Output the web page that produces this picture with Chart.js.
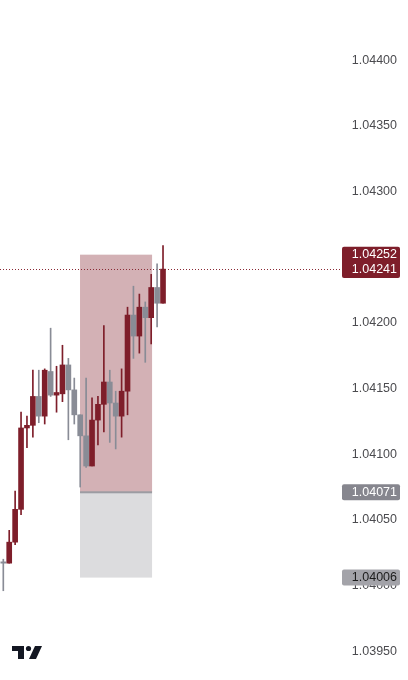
<!DOCTYPE html>
<html>
<head>
<meta charset="utf-8">
<script src="https://cdn.jsdelivr.net/npm/chart.js@4"></script>
<style>
  html, body { margin: 0; padding: 0; background: #fff; }
  #wrap { width: 408px; height: 680px; position: relative; }
</style>
</head>
<body>
<div id="wrap"><canvas id="priceChart"></canvas></div>
<script>
// candle values (oldest first)
const opens  = [1.04018, 1.04017, 1.04033, 1.04058, 1.04120, 1.04122, 1.04144, 1.04129, 1.04163, 1.04145,
                1.04146, 1.04168, 1.04149, 1.04130, 1.04114, 1.04091, 1.04126, 1.04138, 1.04155, 1.04139,
                1.04129, 1.04148, 1.04206, 1.04190, 1.04212, 1.04204, 1.04227, 1.04215];
const closes = [1.04017, 1.04033, 1.04058, 1.04120, 1.04122, 1.04144, 1.04129, 1.04164, 1.04145, 1.04147,
                1.04168, 1.04149, 1.04130, 1.04114, 1.04091, 1.04126, 1.04138, 1.04155, 1.04139, 1.04129,
                1.04148, 1.04206, 1.04190, 1.04212, 1.04204, 1.04227, 1.04215, 1.04241];
const highs  = [1.04020, 1.04042, 1.04072, 1.04132, 1.04129, 1.04164, 1.04164, 1.04165, 1.04196, 1.04167,
                1.04183, 1.04173, 1.04158, 1.04130, 1.04158, 1.04143, 1.04144, 1.04198, 1.04164, 1.04148,
                1.04165, 1.04212, 1.04228, 1.04222, 1.04216, 1.04237, 1.04245, 1.04259];
const lows   = [1.03996, 1.04017, 1.04031, 1.04054, 1.04105, 1.04113, 1.04124, 1.04123, 1.04144, 1.04132,
                1.04140, 1.04111, 1.04123, 1.04075, 1.04090, 1.04091, 1.04107, 1.04117, 1.04109, 1.04104,
                1.04113, 1.04130, 1.04173, 1.04177, 1.04170, 1.04184, 1.04197, 1.04215];

// price axis ticks
const priceTicks = [1.03950, 1.04000, 1.04050, 1.04100, 1.04150, 1.04200, 1.04250, 1.04300, 1.04350, 1.04400];

// position tool levels and span (in candle index units)
const targetPrice = 1.04252;
const lastPrice = 1.04241;
const entryPrice = 1.04071;
const stopPrice = 1.04006;
const boxFrom = 12.97;
const boxTo = 25.15;

const RED = '#7e1e2a';
const GRAY = '#898c96';

const idx = opens.map((_, i) => i);
const candleColors = idx.map(i => closes[i] >= opens[i] ? RED : GRAY);

const overlay = {
    id: 'overlay',
    beforeDatasetsDraw(chart) {
        const { ctx, scales: { x, y }, chartArea } = chart;
        const x0 = x.getPixelForValue(boxFrom);
        const x1 = x.getPixelForValue(boxTo);
        const yT = y.getPixelForValue(targetPrice);
        const yE = y.getPixelForValue(entryPrice);
        const yS = y.getPixelForValue(stopPrice);
        ctx.save();
        ctx.fillStyle = 'rgba(128,31,42,0.35)';
        ctx.fillRect(x0, yT, x1 - x0, yE - yT);
        ctx.fillStyle = '#dcdcde';
        ctx.fillRect(x0, yE, x1 - x0, yS - yE);
        ctx.fillStyle = '#9c9ca2';
        ctx.fillRect(x0, yE - 1, x1 - x0, 2);

        // last price dotted line
        const yL = Math.round(y.getPixelForValue(lastPrice)) + 0.5;
        ctx.strokeStyle = '#8a2a36';
        ctx.lineWidth = 1;
        ctx.setLineDash([1, 2]);
        ctx.beginPath();
        ctx.moveTo(chartArea.left, yL);
        ctx.lineTo(chartArea.right, yL);
        ctx.stroke();
        ctx.restore();
    },
    afterDraw(chart) {
        const { ctx, scales: { y } } = chart;
        const left = 342, w = 58, right = 397;
        ctx.save();
        ctx.font = '12.5px "Liberation Sans", Arial, sans-serif';
        ctx.textAlign = 'right';
        ctx.textBaseline = 'middle';

        // target + last price badge
        const yT = y.getPixelForValue(targetPrice);
        const yL = y.getPixelForValue(lastPrice);
        ctx.fillStyle = RED;
        ctx.beginPath();
        ctx.roundRect(left, yT - 8, w, yL - yT + 17, 2);
        ctx.fill();
        ctx.fillStyle = '#ffffff';
        ctx.fillText(targetPrice.toFixed(5), right, yT);
        ctx.fillText(lastPrice.toFixed(5), right, yL);

        // entry badge
        const yE = y.getPixelForValue(entryPrice);
        ctx.fillStyle = '#86868e';
        ctx.beginPath();
        ctx.roundRect(left, yE - 8, w, 16, 2);
        ctx.fill();
        ctx.fillStyle = '#ffffff';
        ctx.fillText(entryPrice.toFixed(5), right, yE);

        // stop badge
        const yS = y.getPixelForValue(stopPrice);
        ctx.fillStyle = '#a3a3a9';
        ctx.beginPath();
        ctx.roundRect(left, yS - 8, w, 16, 2);
        ctx.fill();
        ctx.fillStyle = '#1c1c1c';
        ctx.fillText(stopPrice.toFixed(5), right, yS);

        // TradingView logo
        ctx.fillStyle = '#131722';
        ctx.fillRect(12, 646, 12, 5);
        ctx.fillRect(18, 646, 6, 13);
        ctx.beginPath();
        ctx.arc(28.5, 648.5, 2.6, 0, Math.PI * 2);
        ctx.fill();
        ctx.beginPath();
        ctx.moveTo(35, 646);
        ctx.lineTo(42, 646);
        ctx.lineTo(36, 659);
        ctx.lineTo(29, 659);
        ctx.closePath();
        ctx.fill();
        ctx.restore();
    }
};

const ctx = document.getElementById('priceChart').getContext('2d');

new Chart(ctx, {
    type: 'bar',
    data: {
        datasets: [{
            label: 'wicks',
            data: idx.map(i => ({ x: i, y: [lows[i], highs[i]] })),
            backgroundColor: candleColors,
            barThickness: 1,
            grouped: false,
            order: 2
        }, {
            label: 'bodies',
            data: idx.map(i => ({ x: i, y: [opens[i], closes[i]] })),
            backgroundColor: candleColors,
            barThickness: 5,
            minBarLength: 1,
            grouped: false,
            order: 1
        }]
    },
    options: {
        responsive: true,
        maintainAspectRatio: false,
        animation: false,
        layout: { padding: { left: 0, right: 11, top: 0, bottom: 0 } },
        plugins: {
            legend: { display: false },
            tooltip: { enabled: false }
        },
        scales: {
            x: {
                type: 'linear',
                display: false,
                offset: false,
                min: -0.558,
                max: 56.92
            },
            y: {
                position: 'right',
                min: 1.03928,
                max: 1.04446,
                grid: { display: false },
                border: { display: false },
                afterBuildTicks: scale => {
                    scale.ticks = priceTicks.map(v => ({ value: v }));
                },
                afterFit: scale => {
                    scale.width = 57;
                    scale.paddingTop = 0;
                    scale.paddingBottom = 0;
                },
                ticks: {
                    crossAlign: 'far',
                    padding: 0,
                    color: '#4b4b4f',
                    font: { family: '"Liberation Sans", Arial, sans-serif', size: 12.5 },
                    callback: v => Number(v).toFixed(5)
                }
            }
        }
    },
    plugins: [overlay]
});
</script>
</body>
</html>
